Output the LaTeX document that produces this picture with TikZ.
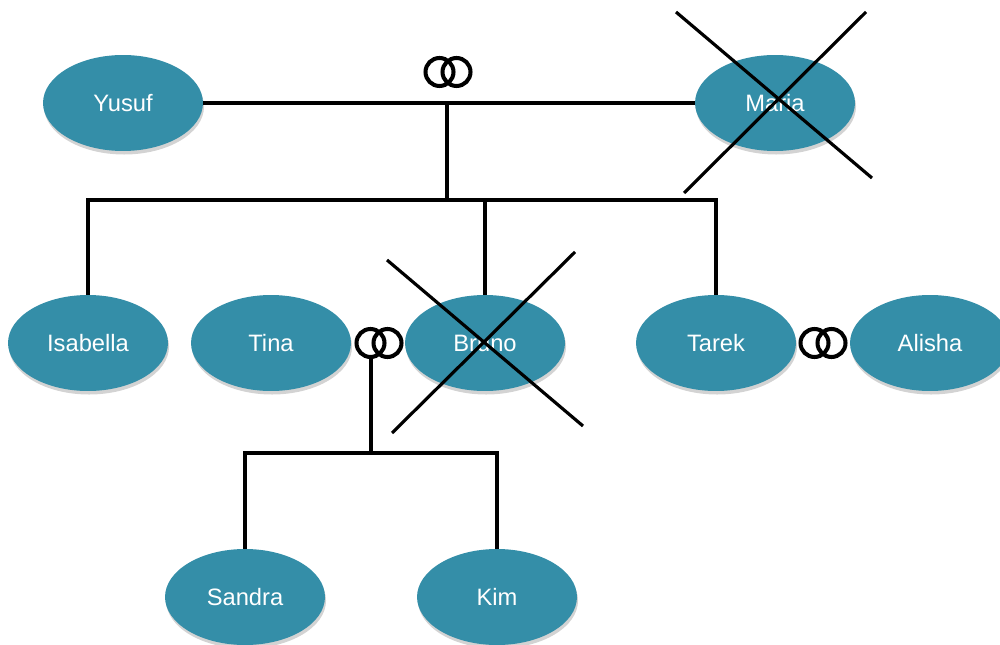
\documentclass[tikz,border=0pt]{standalone}
\usepackage{fontspec}
\setmainfont{Liberation Sans}
\usetikzlibrary{shapes.geometric,shadows}

\definecolor{persblue}{RGB}{52,142,168}

\tikzset{
  person/.style={ellipse, fill=persblue, minimum width=3.2cm, minimum height=1.92cm,
    text=white, font=\fontsize{13.5}{16}\selectfont,
    drop shadow={shadow xshift=0.6pt, shadow yshift=-2pt, opacity=0.35}},
  famline/.style={black, line width=2.2pt},
  ringline/.style={black, line width=2.3pt},
  crossline/.style={black, line width=1.8pt}
}

\begin{document}
\begin{tikzpicture}[x=0.02cm, y=-0.02cm]
\useasboundingbox (0,0) rectangle (1000,645);

% persons
\node[person] (Yusuf) at (123,103) {Yusuf};
\node[person] (Maria) at (775,103) {Maria};
\node[person] (Isabella) at (88,343) {Isabella};
\node[person] (Tina) at (271,343) {Tina};
\node[person] (Bruno) at (485,343) {Bruno};
\node[person] (Tarek) at (716,343) {Tarek};
\node[person] (Alisha) at (930,343) {Alisha};
\node[person] (Sandra) at (245,597) {Sandra};
\node[person] (Kim) at (497,597) {Kim};

% marriage rings
\coordinate (ringYM) at (448,72);
\coordinate (ringTB) at (379,343);
\coordinate (ringTA) at (823,343);
\foreach \r in {ringYM, ringTB, ringTA}
  \draw[ringline] ([xshift=-0.17cm]\r) circle (0.28cm) ([xshift=0.17cm]\r) circle (0.28cm);

% family lines
\coordinate (topJ) at (447,103);
\coordinate (kidsJ) at (447,200);
\draw[famline] (Yusuf) -- (Maria);
\draw[famline] (topJ) -- (kidsJ);
\draw[famline] (Isabella.north) |- (Tarek.north |- kidsJ) -- (Tarek.north);
\draw[famline] (Bruno.north) -- (Bruno.north |- kidsJ);

\coordinate (tbTop) at (371,357);
\coordinate (tbJ) at (371,453);
\draw[famline] (tbTop) -- (tbJ);
\draw[famline] (Sandra.north) |- (Kim.north |- tbJ) -- (Kim.north);

% deceased
\draw[crossline] (676,12) -- (872,178);
\draw[crossline] (866,12) -- (684,193);
\draw[crossline] (387,260) -- (583,426);
\draw[crossline] (575,252) -- (392,433);

\end{tikzpicture}
\end{document}
